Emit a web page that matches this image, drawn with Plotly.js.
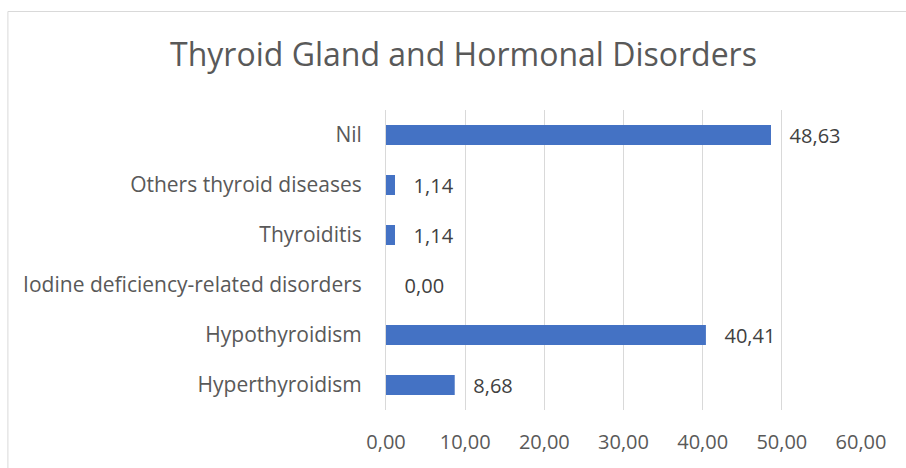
<!DOCTYPE html>
<html>
<head>
<meta charset="utf-8">
<script src="https://cdn.plot.ly/plotly-3.0.1.min.js"></script>
<style>
html,body{margin:0;padding:0;background:#fff;}
#chart{width:906px;height:468px;}
</style>
</head>
<body>
<div id="chart"></div>
<script>
const categories = ["Hyperthyroidism","Hypothyroidism","Iodine deficiency-related disorders","Thyroiditis","Others thyroid diseases","Nil"];
const values = [8.68, 40.41, 0.00, 1.14, 1.14, 48.63];
const tickVals = [0,10,20,30,40,50,60];

const W = 906, H = 468;
const m = {l:386, r:44.5, t:110, b:58};
const pw = W - m.l - m.r, ph = H - m.t - m.b;
const bx = (7.5 - m.l)/pw, by = 1 + (m.t - 11.5)/ph;

const font = "'Open Sans', 'Noto Sans', sans-serif";
const data = [{
  type: 'bar',
  orientation: 'h',
  y: categories,
  x: values,
  width: 0.4,
  marker: {color: '#4472C4', line: {width: 0}},
  texttemplate: '   %{x:.2f}',
  textposition: 'outside',
  constraintext: 'none',
  cliponaxis: false,
  textfont: {family: font, size: 20, color: '#404040'},
  hoverinfo: 'none'
}];
const layout = {
  width: W, height: H,
  margin: m,
  paper_bgcolor: '#fff', plot_bgcolor: '#fff',
  separators: ',.',
  showlegend: false,
  title: {text: 'Thyroid Gland and Hormonal Disorders', font: {family: font, size: 32, color: '#595959'}, x: 463.5/906, xref: 'container', xanchor: 'center', y: 1 - 55/468, yref: 'container', yanchor: 'middle'},
  xaxis: {
    range: [0, 60], tickvals: tickVals, tickformat: '.2f',
    showgrid: true, gridcolor: '#d9d9d9', gridwidth: 1,
    zeroline: false, showline: false,
    ticks: 'outside', ticklen: 14, tickcolor: 'rgba(0,0,0,0)',
    tickfont: {family: font, size: 20, color: '#595959'},
    fixedrange: true
  },
  yaxis: {
    type: 'category', categoryorder: 'array', categoryarray: categories,
    range: [-0.5, 5.5],
    showgrid: false, zeroline: false,
    showline: true, linecolor: '#d9d9d9', linewidth: 1,
    ticks: 'outside', ticklen: 19, tickcolor: 'rgba(0,0,0,0)',
    tickfont: {family: font, size: 21, color: '#595959'},
    fixedrange: true
  },
  shapes: [
    {type: 'line', xref: 'paper', yref: 'paper', x0: bx, x1: 1 + (m.r + 5)/pw, y0: by, y1: by, line: {color: '#d9d9d9', width: 1}},
    {type: 'line', xref: 'paper', yref: 'paper', x0: bx, x1: bx, y0: by, y1: -0.5, line: {color: '#d9d9d9', width: 1}}
  ]
};
Plotly.newPlot('chart', data, layout, {displayModeBar: false, staticPlot: true});
</script>
</body>
</html>
